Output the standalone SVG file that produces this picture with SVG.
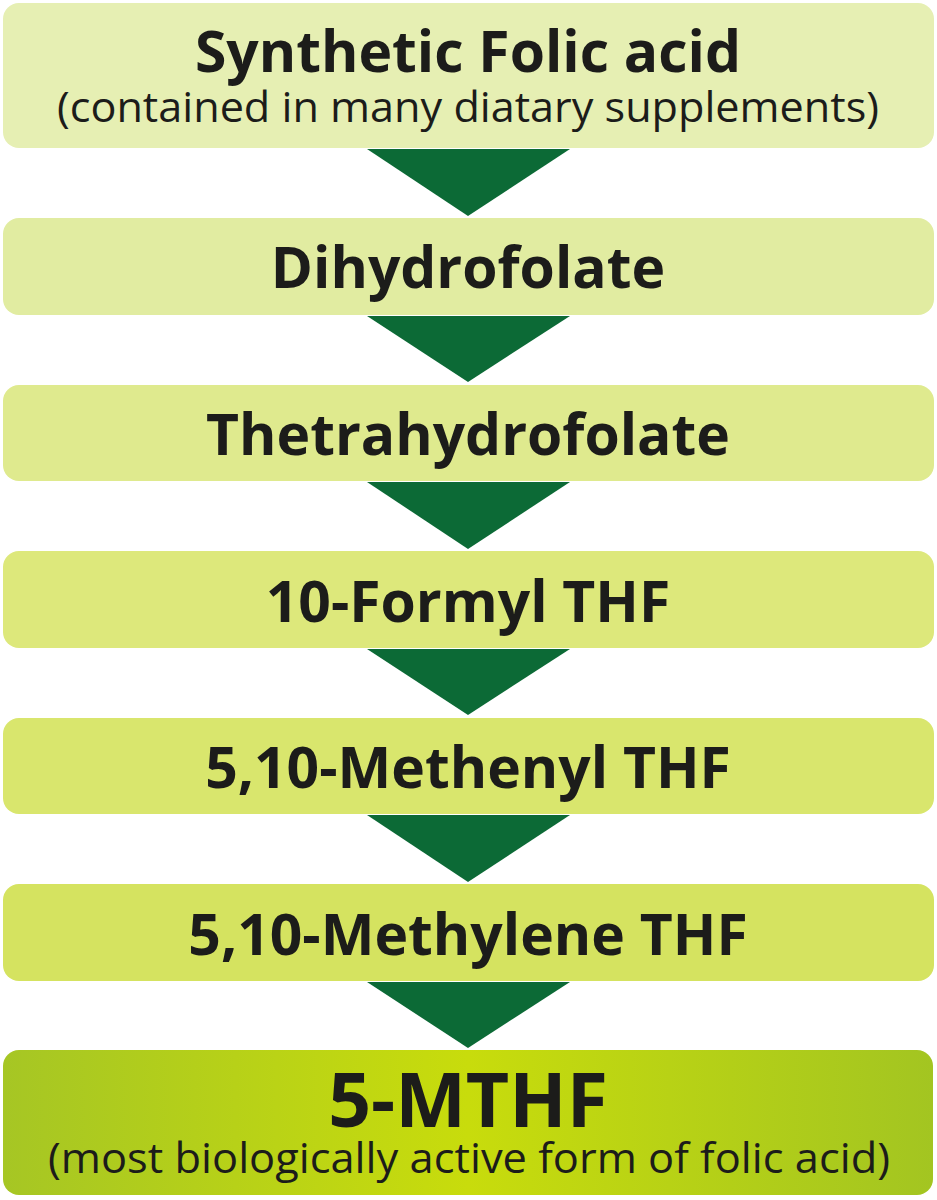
<svg xmlns="http://www.w3.org/2000/svg" width="937" height="1200" viewBox="0 0 937 1200">
  <defs>
    <linearGradient id="gFinal" x1="0" y1="0" x2="1" y2="0">
      <stop offset="0" stop-color="#a6c624"/>
      <stop offset="0.5" stop-color="#c8dc0c"/>
      <stop offset="1" stop-color="#a3c521"/>
    </linearGradient>
    <style>
      .box { rx: 16px; ry: 16px; }
      .arrow { fill: #0c6a36; }
      .t { font-family: "Open Sans", "Noto Sans", "Liberation Sans", sans-serif; font-weight: 700; fill: #1c1c1a; text-anchor: middle; }
      .s { font-family: "Open Sans", "Noto Sans", "Liberation Sans", sans-serif; font-weight: 400; fill: #1c1c1a; text-anchor: middle; }
    </style>
  </defs>
  <rect width="937" height="1200" fill="#ffffff"/>

  <g id="connectors">
    <polygon class="arrow" points="367,149 570,149 468,216"/>
    <polygon class="arrow" points="367,316 570,316 468,382"/>
    <polygon class="arrow" points="367,482 570,482 468,549"/>
    <polygon class="arrow" points="367,649 570,649 468,715"/>
    <polygon class="arrow" points="367,815 570,815 468,882"/>
    <polygon class="arrow" points="367,982 570,982 468,1048"/>
  </g>

  <g id="node-synthetic-folic-acid">
    <rect class="box" x="3" y="3" width="931" height="145" fill="#e6efb3"/>
    <text class="t" x="468" y="72" font-size="57">Synthetic Folic acid</text>
    <text class="s" x="468" y="122" font-size="42" textLength="822" lengthAdjust="spacingAndGlyphs">(contained in many diatary supplements)</text>
  </g>

  <g id="node-dihydrofolate">
    <rect class="box" x="3" y="218" width="931" height="97" fill="#e1eca1"/>
    <text class="t" x="468" y="288" font-size="57">Dihydrofolate</text>
  </g>

  <g id="node-thetrahydrofolate">
    <rect class="box" x="3" y="385" width="931" height="96" fill="#dfea8e"/>
    <text class="t" x="468" y="455" font-size="57">Thetrahydrofolate</text>
  </g>

  <g id="node-10-formyl-thf">
    <rect class="box" x="3" y="551" width="931" height="97" fill="#dde87b"/>
    <text class="t" x="468" y="622" font-size="57">10-Formyl THF</text>
  </g>

  <g id="node-5-10-methenyl-thf">
    <rect class="box" x="3" y="718" width="931" height="96" fill="#d9e66d"/>
    <text class="t" x="468" y="788" font-size="57">5,10-Methenyl THF</text>
  </g>

  <g id="node-5-10-methylene-thf">
    <rect class="box" x="3" y="884" width="931" height="97" fill="#d5e360"/>
    <text class="t" x="468" y="955" font-size="57">5,10-Methylene THF</text>
  </g>

  <g id="node-5-mthf">
    <rect class="box" x="3" y="1050" width="930" height="145" fill="url(#gFinal)"/>
    <text class="t" x="468" y="1127" font-size="75">5-MTHF</text>
    <text class="s" x="469" y="1173" font-size="42" textLength="842" lengthAdjust="spacingAndGlyphs">(most biologically active form of folic acid)</text>
  </g>
</svg>
